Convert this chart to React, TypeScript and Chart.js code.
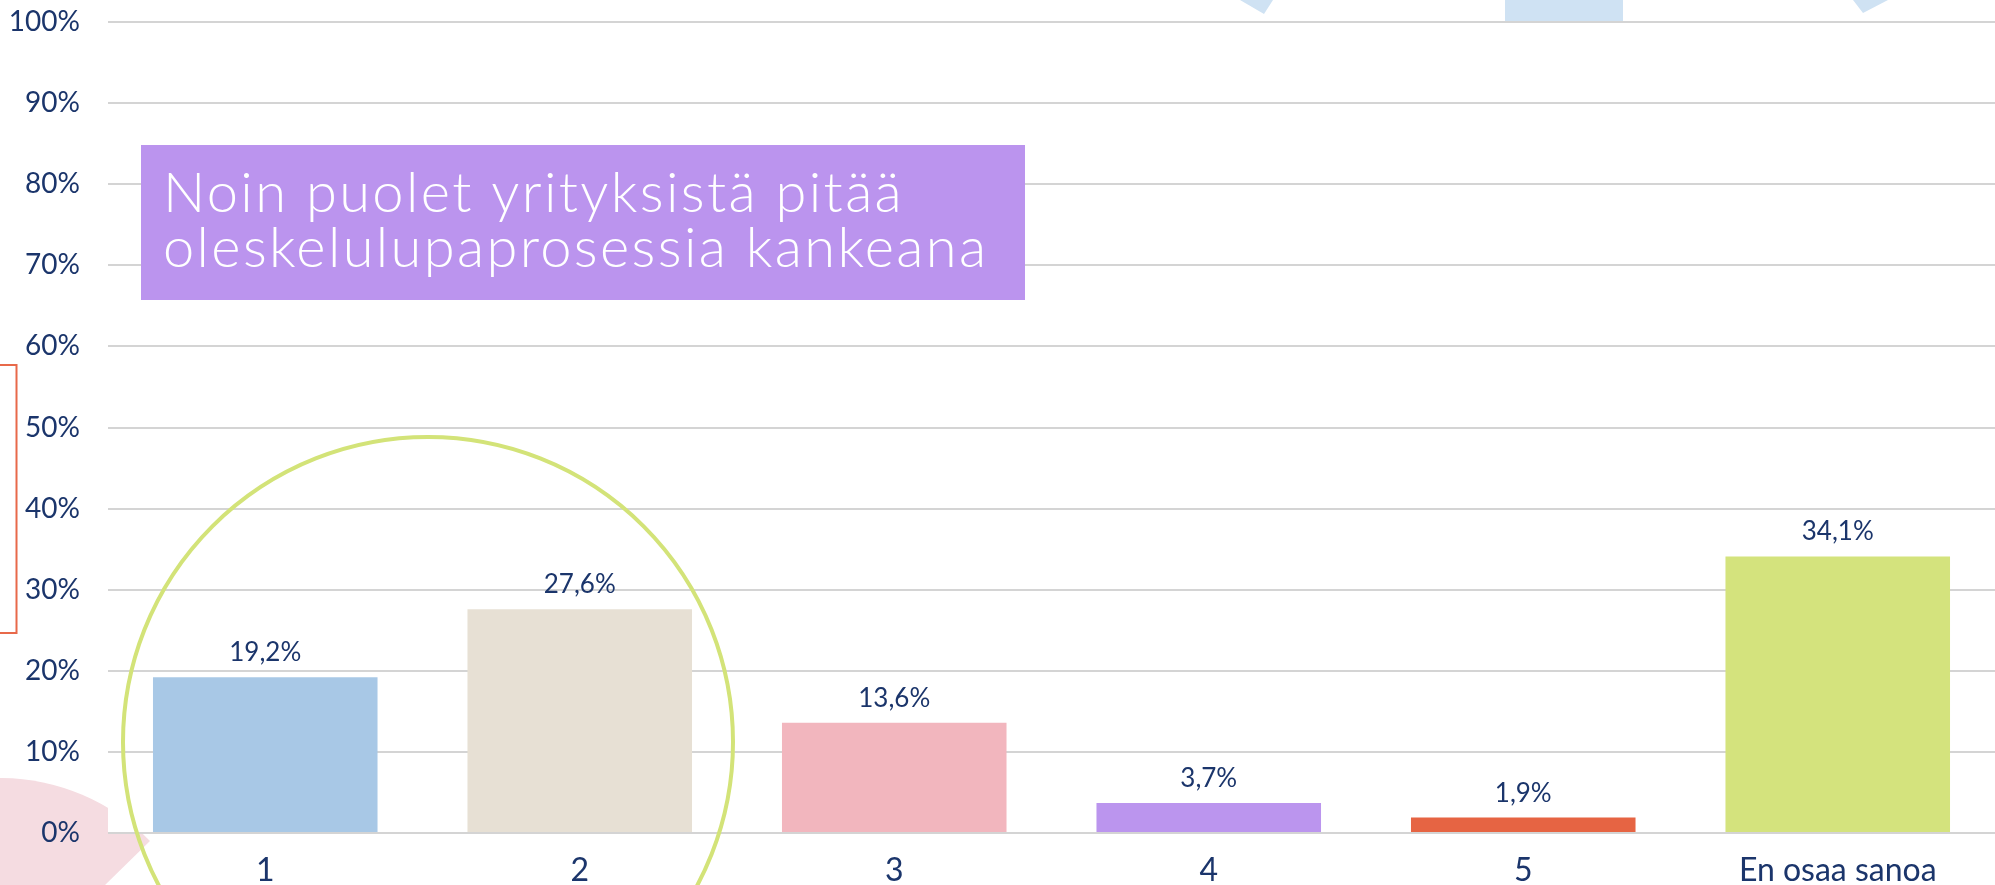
import React, { useEffect, useRef } from 'react';
import { Chart, registerables } from 'chart.js';

Chart.register(...registerables);

const categories = ['1', '2', '3', '4', '5', 'En osaa sanoa'];
const values = [19.2, 27.6, 13.6, 3.7, 1.9, 34.1];
const barColors = ['#a8c8e6', '#e7e0d4', '#f2b6be', '#bb95ee', '#e66443', '#d4e37d'];
const titleLines = ['Noin puolet yrityksistä pitää', 'oleskelulupaprosessia kankeana'];

const NAVY = '#1b356b';
const FONT = 'Lato, "Open Sans", sans-serif';

const formatPct = (v: number) => `${v.toFixed(1).replace('.', ',')}%`;

const decorPlugin = {
  id: 'decor',
  beforeDraw(chart: any) {
    const { ctx, chartArea } = chart;
    ctx.save();
    // pink sector bottom-left
    ctx.fillStyle = '#f5dce1';
    ctx.beginPath();
    ctx.moveTo(0, 988);
    ctx.arc(0, 988, 210, Math.atan2(-0.7, 0.714), -Math.PI * 1.2, true);
    ctx.closePath();
    ctx.fill();
    // white plot area
    ctx.fillStyle = '#ffffff';
    ctx.fillRect(chartArea.left, chartArea.top, chartArea.right - chartArea.left, chartArea.bottom - chartArea.top);
    // light blue shapes at top
    ctx.fillStyle = '#cfe2f3';
    ctx.beginPath();
    ctx.moveTo(1240, 0);
    ctx.lineTo(1273, 0);
    ctx.lineTo(1264, 14);
    ctx.closePath();
    ctx.fill();
    ctx.fillRect(1505, 0, 118, 21);
    ctx.beginPath();
    ctx.moveTo(1853, 0);
    ctx.lineTo(1888, 0);
    ctx.lineTo(1863, 13);
    ctx.closePath();
    ctx.fill();
    // orange bracket on the left
    ctx.strokeStyle = '#e8694a';
    ctx.lineWidth = 2;
    ctx.beginPath();
    ctx.moveTo(0, 365);
    ctx.lineTo(16.5, 365);
    ctx.lineTo(16.5, 633);
    ctx.lineTo(0, 633);
    ctx.stroke();
    ctx.restore();
  },
  afterDatasetsDraw(chart: any) {
    const { ctx } = chart;
    ctx.save();
    // data labels
    const meta = chart.getDatasetMeta(0);
    ctx.fillStyle = NAVY;
    ctx.font = `26px ${FONT}`;
    ctx.textAlign = 'center';
    ctx.textBaseline = 'alphabetic';
    meta.data.forEach((bar: any, i: number) => {
      ctx.fillText(formatPct(values[i]), bar.x, bar.y - 16);
    });
    // green circle
    ctx.strokeStyle = '#d3e378';
    ctx.lineWidth = 4;
    ctx.beginPath();
    ctx.arc(428, 742, 305, 0, Math.PI * 2);
    ctx.stroke();
    // title box
    ctx.fillStyle = '#bb94ee';
    ctx.fillRect(141, 145, 884, 155);
    ctx.fillStyle = '#ffffff';
    ctx.textAlign = 'left';
    const size = 56;
    ctx.font = `300 ${size}px ${FONT}`;
    const w0 = ctx.measureText(titleLines[1]).width;
    const ls = Math.max(-2, Math.min(4, (823 - w0) / (titleLines[1].length - 1)));
    try {
      (ctx as any).letterSpacing = `${ls}px`;
    } catch (e) {
      /* ignore */
    }
    ctx.fillText(titleLines[0], 163, 212);
    ctx.fillText(titleLines[1], 163, 267);
    ctx.restore();
  },
};

export default function App() {
  const canvasRef = useRef<HTMLCanvasElement | null>(null);

  useEffect(() => {
    document.body.style.margin = '0';
    const canvas = canvasRef.current;
    if (!canvas) return;
    const chart = new Chart(canvas, {
      type: 'bar',
      data: {
        labels: categories,
        datasets: [
          {
            data: values,
            backgroundColor: barColors,
            borderWidth: 0,
            barPercentage: 0.714,
            categoryPercentage: 1,
          },
        ],
      },
      options: {
        animation: false,
        responsive: false,
        devicePixelRatio: 1,
        layout: { padding: { top: 22, left: 0, right: 0, bottom: 0 } },
        plugins: { legend: { display: false }, tooltip: { enabled: false } },
        scales: {
          x: {
            grid: { display: false, drawTicks: false },
            border: { display: false },
            ticks: { color: NAVY, font: { family: FONT, size: 32 }, padding: 18, maxRotation: 0 },
            afterFit: (scale: any) => {
              scale.height = 52;
              scale.paddingLeft = 0;
              scale.paddingRight = 0;
            },
          },
          y: {
            min: 0,
            max: 100,
            grid: { color: '#d4d4d4', lineWidth: 2, drawTicks: false },
            border: { display: false },
            ticks: {
              stepSize: 10,
              color: NAVY,
              font: { family: FONT, size: 28 },
              padding: 28,
              callback: (v: any) => `${v}%`,
            },
            afterFit: (scale: any) => {
              scale.width = 108;
              scale.paddingTop = 0;
              scale.paddingBottom = 0;
            },
          },
        },
      },
      plugins: [decorPlugin],
    });
    return () => chart.destroy();
  }, []);

  return (
    <div style={{ width: 1995, height: 885, position: 'relative' }}>
      <canvas ref={canvasRef} width={1995} height={885} style={{ display: 'block', width: 1995, height: 885 }} />
    </div>
  );
}
